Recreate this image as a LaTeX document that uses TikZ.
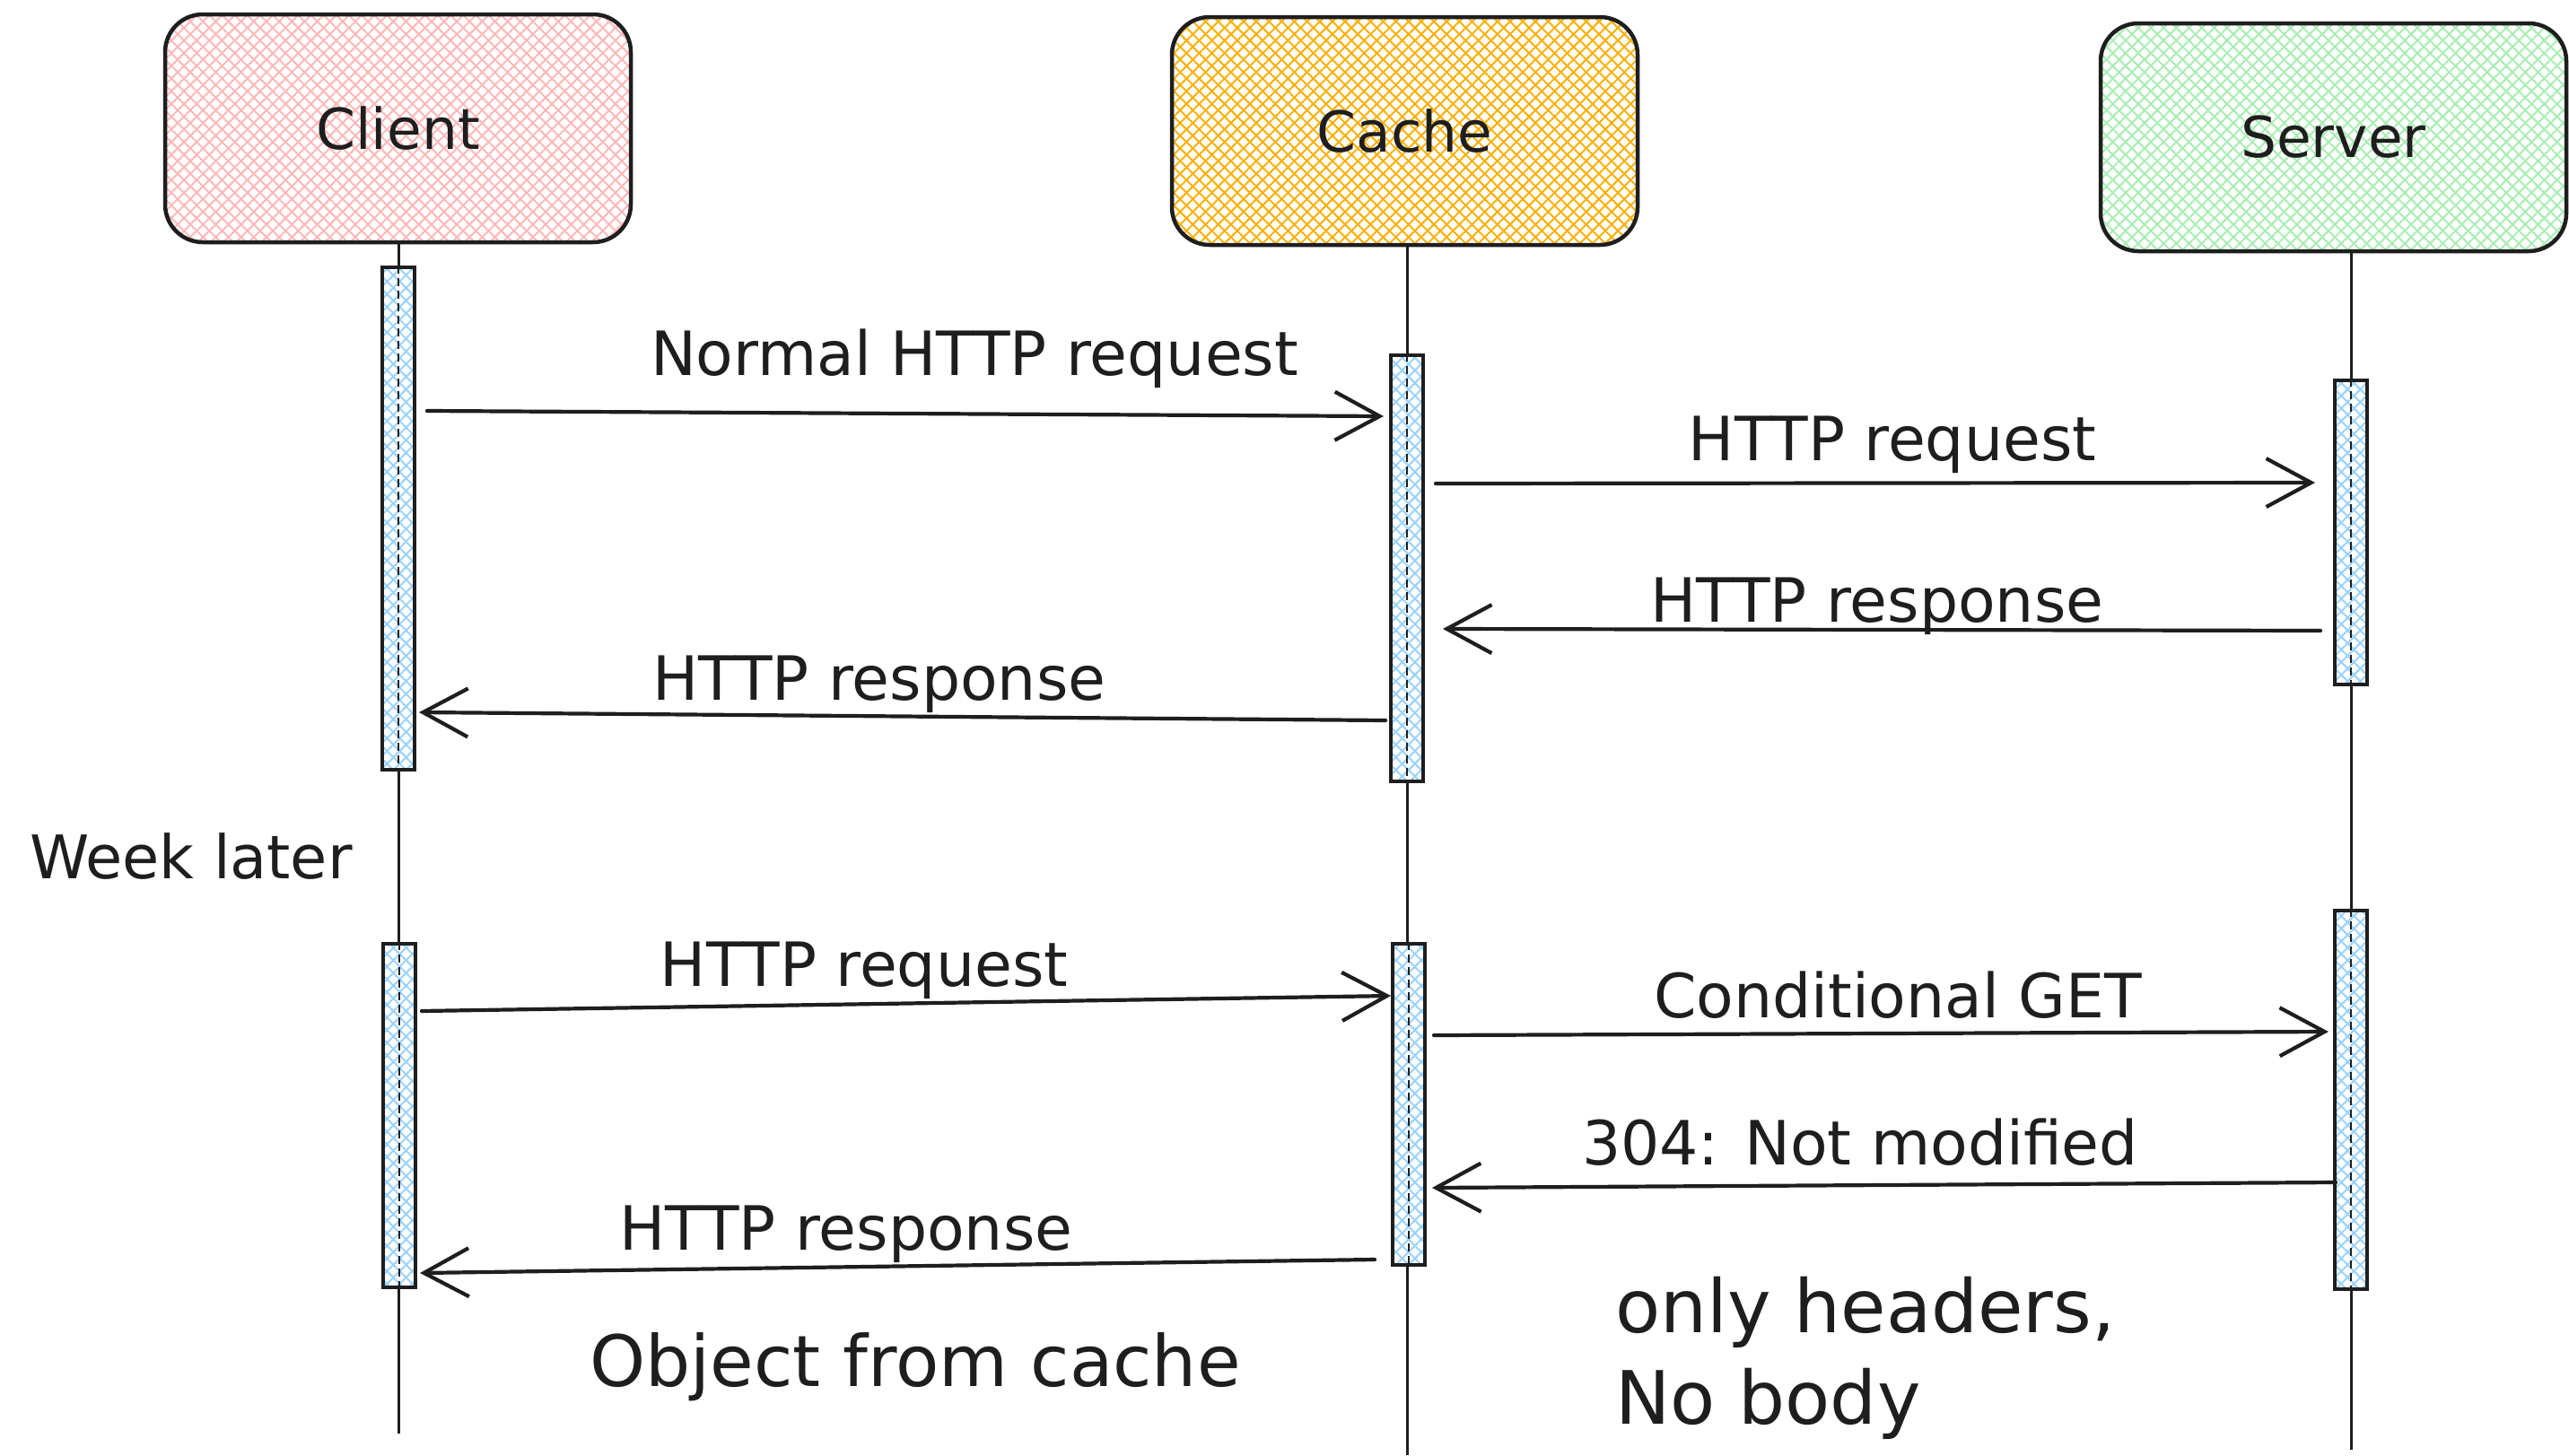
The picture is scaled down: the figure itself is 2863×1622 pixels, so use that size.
\documentclass[tikz,border=0pt]{standalone}
\usepackage{fontspec}
\setmainfont{DejaVu Sans}
\usetikzlibrary{arrows.meta,patterns.meta,calc}

\definecolor{ink}{HTML}{1E1E1E}
\definecolor{clientpink}{HTML}{FFB8B8}
\definecolor{cacheyellow}{HTML}{FAB005}
\definecolor{servergreen}{HTML}{A8EEB2}
\definecolor{barblue}{HTML}{99D2FF}

\tikzset{
  % cross hatching in the given colour
  hatch/.style={
    preaction={pattern={Lines[angle=45,distance=10pt,line width=2pt]},pattern color=#1},
    pattern={Lines[angle=-45,distance=10pt,line width=2pt]},pattern color=#1},
  actor/.style={rectangle,rounded corners=42pt,draw=ink,line width=4.5pt,
    minimum width=519pt,minimum height=254pt,text=ink,
    font=\fontsize{63}{75}\selectfont,hatch=#1},
  lifeline/.style={draw=ink,line width=3pt},
  activation/.style={rectangle,draw=ink,line width=4pt,inner sep=0pt,
    minimum width=36pt,minimum height=#1,
    preaction={fill=white},hatch=barblue},
  midline/.style={draw=ink,line width=1.6pt,dash pattern=on 9pt off 5pt},
  msg/.style={draw=ink,line width=4.2pt,line cap=round,
    -{Straight Barb[length=50pt,width=54pt]}},
  lbl/.style={text=ink,anchor=base,inner sep=0pt,font=\fontsize{68}{80}\selectfont},
  note/.style={text=ink,inner sep=0pt,align=left},
}

\begin{document}
\begin{tikzpicture}[x=1pt,y=-1pt]
\useasboundingbox (0,0) rectangle (2863,1622);
\fill[white] (0,0) rectangle (2863,1622);

% participants
\node[actor=clientpink]  (client) at (443.5,143) {Client};
\node[actor=cacheyellow] (cache)  at (1565.5,146) {Cache};
\node[actor=servergreen] (server) at (2600.5,153) {Server};

% lifeline ends
\coordinate (clientEnd) at (444,1598);
\coordinate (cacheEnd)  at (1568,1622);
\coordinate (serverEnd) at (2620,1616);

\draw[lifeline] (client.south -| clientEnd) -- (clientEnd);
\draw[lifeline] (cache.south -| cacheEnd) -- (cacheEnd);
\draw[lifeline] (server.south -| serverEnd) -- (serverEnd);

% activation bars
\node[activation=560pt] (cb1) at (444,578) {};
\node[activation=475pt] (kb1) at (1568,633.5) {};
\node[activation=339pt] (sb1) at (2620,593.5) {};
\node[activation=383pt] (cb2) at (445,1243.5) {};
\node[activation=358pt] (kb2) at (1570,1231) {};
\node[activation=422pt] (sb2) at (2620,1226) {};
\foreach \b in {cb1,kb1,sb1,cb2,kb2,sb2}
  \draw[midline] (\b.north) -- (\b.south);

% first exchange
\draw[msg] ($(cb1.east |- 0,458)+(12,0)$) -- ($(kb1.west |- 0,464)+(-6,0)$);
\node[lbl] (m1) at (1086,418) {Normal HTTP request};

\draw[msg] ($(kb1.east |- 0,539)+(12,0)$) -- ($(sb1.west |- 0,538)+(-20,0)$);
\node[lbl] (m2) at (2109,513) {HTTP request};

\draw[msg] ($(sb1.west |- 0,703)+(-14,0)$) -- ($(kb1.east |- 0,701)+(20,0)$);
\node[lbl] (m3) at (2092,693) {HTTP response};

\draw[msg] ($(kb1.west |- 0,803)+(-4,0)$) -- ($(cb1.east |- 0,794)+(3,0)$);
\node[lbl] (m4) at (980,780) {HTTP response};

\node[note,anchor=base west,font=\fontsize{67}{80}\selectfont] (later) at (33,979) {Week later};

% second exchange
\draw[msg] ($(cb2.east |- 0,1127)+(5,0)$) -- ($(kb2.west |- 0,1110)+(0,0)$);
\node[lbl] (m5) at (963,1099) {HTTP request};

\draw[msg] ($(kb2.east |- 0,1154)+(8,0)$) -- ($(sb2.west |- 0,1150)+(-5,0)$);
\node[lbl] (m6) at (2115,1134) {Conditional GET};

\draw[msg] ($(sb2.west |- 0,1318)+(3,0)$) -- ($(kb2.east |- 0,1324)+(6,0)$);
\node[lbl] (m7) at (2073,1298) {304: Not modified};

\draw[msg] ($(kb2.west |- 0,1404)+(-18,0)$) -- ($(cb2.east |- 0,1419)+(3,0)$);
\node[lbl] (m8) at (943,1393) {HTTP response};

% notes
\node[note,anchor=base,font=\fontsize{79}{95}\selectfont] (fromcache) at (1020,1545) {Object from cache};
\node[note,anchor=base west,font=\fontsize{82}{102}\selectfont] (headers) at (1800,1587) {only headers,\\No body};
\end{tikzpicture}
\end{document}
